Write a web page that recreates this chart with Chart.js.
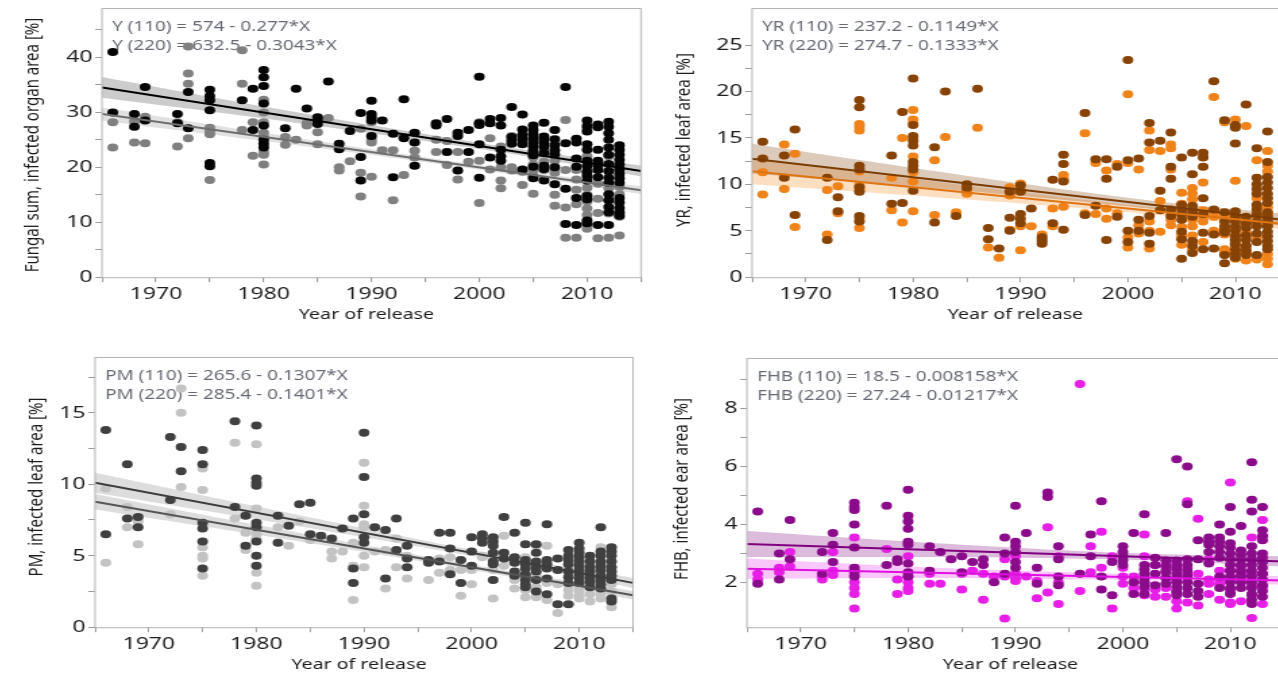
<!DOCTYPE html>
<html>
<head>
<meta charset="utf-8">
<script src="https://cdn.jsdelivr.net/npm/chart.js@4.4.1/dist/chart.umd.min.js"></script>
<style>
    html, body { margin: 0; padding: 0; background: #fff; }
    body { width: 1278px; height: 675px; overflow: hidden; position: relative; }
    canvas { position: absolute; transform-origin: 0 0; }
</style>
</head>
<body>
<canvas id="fungal"></canvas>
<canvas id="yr"></canvas>
<canvas id="pm"></canvas>
<canvas id="fhb"></canvas>
<script>
// --- DATA (year of release, values per cultivar) ---
const fungal220 = [
    [1966, [41, 30]], [1968, [29.7, 27.4]], [1969, [34.6, 28.5]], [1972, [29.7, 28.0]],
    [1973, [33.7, 27.1]], [1975, [34.1, 33.0, 32.2, 30.4, 20.8, 20.2]], [1978, [32.2]],
    [1979, [34.3, 26.8]], [1980, [37.7, 36.4, 34.8, 31.6, 27.6, 25.0, 24.3, 23.6]],
    [1982, [27.1]], [1983, [34.3]], [1984, [30.7]], [1985, [29.1, 28.5, 27.9]], [1986, [35.6]],
    [1987, [24.3, 23.3]], [1988, [26.6]], [1989, [29.9, 21.9, 17.6]],
    [1990, [32.1, 29.7, 29.1, 28.5, 25.7]], [1991, [28.5]], [1992, [26.1, 18.2]],
    [1993, [32.4, 25.3]], [1994, [26.3, 24.5, 20.3]], [1996, [28.0, 27.6]], [1997, [28.8, 22.8]],
    [1998, [26.3, 25.7, 19.4]], [1999, [26.8, 22.8]], [2000, [36.5, 28.0, 27.7, 24.2, 18.1]],
    [2001, [28.8, 28.0, 21.8]], [2002, [29.0, 27.6, 23.2, 22.0, 21.2]], [2003, [31.0, 25.5, 24.9, 24.3]],
    [2004, [29.6, 26.9, 25.9, 25.1, 24.2, 19.6]],
    [2005, [27.6, 26.8, 26.0, 25.3, 24.6, 23.8, 23.0, 22.2, 20.1, 18.0]],
    [2006, [28.1, 25.6, 25.0, 24.4, 23.7, 22.6, 20.3, 19.7, 17.6]],
    [2007, [26.8, 25.1, 24.0, 23.1, 22.4, 20.0, 16.9]], [2008, [34.6, 24.4, 16.1, 9.7]],
    [2009, [25.2, 24.5, 21.6, 20.1, 14.4, 9.5]],
    [2010, [28.5, 27.5, 26.5, 24.2, 23.2, 21.2, 20.2, 19.2, 18.4, 17.6, 14.8, 14.2, 10.3, 9.8]],
    [2011, [27.8, 27.3, 23.2, 21.2, 20.4, 19.5, 18.2, 9.5]],
    [2012, [28.3, 27.4, 26.2, 25.0, 23.6, 22.3, 20.6, 19.3, 18.1, 17.2, 15.1, 14.0, 12.8, 11.8, 9.5]],
    [2013, [24.0, 23.2, 22.3, 21.4, 20.5, 19.6, 18.8, 18.0, 17.2, 14.4, 13.6, 12.6, 11.8, 11.2]],
];
const fungal110 = [
    [1966, [28.2, 23.6]], [1968, [28.4, 24.5]], [1969, [29.2, 24.4]], [1972, [28.2, 23.8]],
    [1973, [42.0, 37.1, 35.2, 25.3]], [1975, [27.2, 26.6, 26.0, 17.7]], [1978, [41.3, 35.2, 26.8]],
    [1979, [28.2, 22.1]], [1980, [32.3, 30.0, 28.2, 26.3, 25.5, 22.8, 22.3, 20.5]],
    [1982, [25.5, 24.1]], [1983, [25.0]], [1984, [28.0, 27.6]], [1985, [29.0, 26.4, 24.2]],
    [1986, [29.0]], [1987, [20.0, 19.4]], [1988, [21.1]], [1989, [27.0, 19.0, 14.7]],
    [1990, [28.2, 25.0, 24.5, 18.3]], [1991, [23.1]], [1992, [23.1, 14.0]], [1993, [25.5, 18.6]],
    [1994, [23.0, 21.8]], [1996, [25.0, 22.8]], [1997, [24.8, 20.4]], [1998, [22.8, 17.8]],
    [1999, [21.0]], [2000, [28.2, 21.2, 13.5]], [2001, [25.3, 19.6]], [2002, [23.8, 20.0, 17.6, 16.2]],
    [2003, [25.7, 20.0, 19.4]], [2004, [19.2, 16.8]], [2005, [21.8, 20.5, 19.4, 18.4, 15.2]],
    [2006, [22.5, 21.0, 19.5]], [2007, [21.2, 19.0, 15.0, 13.0]], [2008, [28.6, 19.5, 12.7, 7.2]],
    [2009, [19.5, 17.8, 15.9, 13.3, 7.2]],
    [2010, [27.0, 22.0, 19.0, 16.3, 15.0, 13.8, 12.5, 11.3, 9.5, 8.8]],
    [2011, [17.0, 14.3, 11.7, 7.1]], [2012, [22.0, 16.2, 14.0, 11.6, 7.2]],
    [2013, [16.4, 15.1, 11.6, 11.0, 7.6]],
];

const yr220 = [
    [1966, [14.6, 12.8]], [1968, [13.1, 10.7]], [1969, [15.9, 6.7]], [1972, [10.7, 4.0]],
    [1973, [8.6, 7.1]], [1975, [19.1, 18.3, 12.0, 11.6, 9.7, 9.2, 6.6, 6.0]], [1978, [13.1, 7.9]],
    [1979, [17.8, 8.0]], [1980, [21.4, 16.4, 15.2, 14.7, 14.2, 12.4, 12.0, 11.6, 9.3]],
    [1982, [14.0, 5.9]], [1983, [20.0]], [1984, [6.6]], [1985, [10.0, 9.6]], [1986, [20.3]],
    [1987, [5.3, 4.1]], [1988, [3.1]], [1989, [9.2, 6.4, 5.0]], [1990, [9.9, 9.2, 6.8, 6.3, 5.8]],
    [1991, [7.4]], [1992, [4.3, 3.9, 3.6]], [1993, [10.5, 5.8]], [1994, [13.2, 12.2, 10.3, 5.1]],
    [1996, [17.7, 6.7]], [1997, [12.7, 7.7]], [1998, [12.7, 10.6, 4.0]], [1999, [11.9, 6.5]],
    [2000, [23.4, 12.6, 5.0, 3.8]], [2001, [12.8, 6.2, 5.0]], [2002, [16.6, 14.5, 6.6, 4.8, 3.6]],
    [2003, [14.7, 9.3, 7.2]], [2004, [15.6, 11.9, 10.6, 7.3, 6.6]],
    [2005, [12.9, 7.8, 7.3, 6.8, 6.2, 4.9, 4.1, 2.0]],
    [2006, [13.4, 11.1, 7.7, 7.3, 6.9, 6.5, 3.9, 3.4, 2.6]],
    [2007, [13.4, 12.9, 11.9, 8.5, 6.8, 4.8, 3.0]], [2008, [21.1, 7.3, 4.6, 3.1]],
    [2009, [16.9, 7.0, 6.0, 5.5, 5.1, 4.8, 2.4, 1.5]],
    [2010, [16.4, 16.1, 14.4, 7.1, 6.6, 6.0, 5.5, 5.0, 4.5, 4.0, 3.5, 3.0, 2.5, 2.1]],
    [2011, [18.6, 6.5, 5.8, 5.3, 4.5, 4.0, 3.4, 2.9, 2.4]],
    [2012, [13.9, 10.7, 10.0, 9.5, 9.0, 7.8, 7.3, 6.8, 6.0, 5.5, 4.7, 3.8, 2.4]],
    [2013, [15.7, 12.4, 10.8, 10.2, 9.6, 9.0, 8.5, 8.0, 7.0, 6.5, 6.0, 5.5, 4.9, 4.4, 3.9, 3.4, 3.0]],
];
const yr110 = [
    [1966, [11.3, 8.9]], [1968, [14.3, 9.5]], [1969, [13.3, 5.4]], [1972, [9.4, 4.6]],
    [1973, [9.8, 6.9]], [1975, [16.5, 16.2, 15.8, 11.4, 9.9, 9.4, 6.3, 5.3]], [1978, [10.7, 7.2]],
    [1979, [15.0, 5.9]], [1980, [18.0, 17.0, 16.6, 15.0, 13.0, 11.3, 10.3, 7.1]],
    [1982, [12.6, 6.7]], [1983, [15.1]], [1984, [7.0]], [1985, [9.3, 9.0]], [1986, [16.1]],
    [1987, [3.2]], [1988, [2.1]], [1989, [9.7, 8.8, 5.1]], [1990, [10.1, 9.4, 5.5, 2.9]],
    [1991, [5.5]], [1992, [4.6, 4.1]], [1993, [7.4, 5.5]], [1994, [11.0, 10.6, 7.6]],
    [1996, [15.5, 6.9]], [1997, [12.3, 6.8]], [1998, [11.5, 7.4, 6.3]], [1999, [12.2, 6.9]],
    [2000, [19.7, 12.3, 4.3, 3.2]], [2001, [11.6, 5.6, 4.7]], [2002, [15.8, 13.7, 6.0, 5.0, 3.1]],
    [2003, [13.6, 8.2, 4.9]], [2004, [14.3, 13.9, 11.6, 6.2, 5.6]],
    [2005, [9.1, 7.9, 6.6, 5.4, 4.5, 3.5]], [2006, [9.6, 9.0, 8.4, 6.2, 5.5, 4.5, 3.0]],
    [2007, [13.0, 10.2, 7.2, 6.5, 6.0, 3.8]], [2008, [19.4, 7.0, 6.5, 5.0]],
    [2009, [16.7, 6.5, 4.6, 3.0, 2.7]], [2010, [17.0, 10.4, 6.3, 5.2, 4.3, 3.7, 2.8, 2.0]],
    [2011, [16.3, 5.7, 4.8, 3.3, 2.7, 1.8]], [2012, [12.6, 8.5, 7.6, 6.6, 4.3, 2.2, 1.9]],
    [2013, [13.6, 12.0, 11.4, 7.5, 6.8, 5.7, 2.5, 2.0, 1.4]],
];

const pm220 = [
    [1966, [13.8, 6.5]], [1968, [11.4, 7.6]], [1969, [7.7, 7.0]], [1972, [13.3, 8.9]],
    [1973, [12.6, 10.9]], [1975, [12.4, 11.4, 7.3, 6.9, 6.0, 4.1]], [1978, [14.4, 8.4]],
    [1979, [7.8, 5.7]], [1980, [14.1, 10.4, 10.1, 9.9, 7.3, 7.0, 6.0, 5.0, 4.3]],
    [1982, [7.8, 5.9]], [1983, [7.1]], [1984, [8.6]], [1985, [8.7, 6.5]], [1986, [6.4]],
    [1987, [6.2]], [1988, [6.9]], [1989, [7.6, 4.1, 3.1]], [1990, [13.6, 10.5, 7.9, 6.3, 5.9]],
    [1991, [7.0]], [1992, [6.8, 3.4]], [1993, [7.6, 5.4]], [1994, [5.7, 4.8, 4.2]],
    [1996, [4.7, 4.5]], [1997, [6.6, 4.6]], [1998, [6.6, 5.5, 3.7]], [1999, [4.7, 3.1]],
    [2000, [6.3, 5.3, 4.3]], [2001, [6.5, 6.2, 5.9]], [2002, [6.3, 6.0, 5.7, 5.2, 4.6, 4.4, 3.3]],
    [2003, [7.7, 5.2, 4.8]], [2004, [6.6, 4.9, 4.5, 3.9, 3.6]],
    [2005, [7.3, 5.8, 4.7, 4.4, 4.1, 3.7, 3.3, 3.0, 2.8]], [2006, [5.8, 5.2, 4.6, 4.2, 3.9, 3.3, 2.5]],
    [2007, [7.2, 4.7, 4.4, 4.1, 3.4, 2.3]], [2008, [4.8, 4.0, 1.6]],
    [2009, [5.4, 5.0, 4.7, 4.4, 3.9, 3.5, 3.1, 1.6]],
    [2010, [5.9, 5.5, 5.2, 4.9, 4.6, 4.3, 4.0, 3.7, 3.4, 3.1]],
    [2011, [5.0, 4.6, 4.2, 3.9, 3.5, 3.2, 2.8]],
    [2012, [7.0, 5.3, 5.0, 4.6, 4.3, 4.0, 3.6, 3.3, 3.0, 2.7]],
    [2013, [5.6, 5.3, 5.0, 4.6, 4.2, 3.9, 3.6, 3.3, 2.0, 1.8]],
];
const pm110 = [
    [1966, [9.7, 4.5]], [1968, [8.4, 7.0]], [1969, [7.4, 5.8]], [1972, [7.9]],
    [1973, [16.7, 15.0, 9.8]], [1975, [11.1, 9.6, 5.6, 5.0, 4.8, 3.6]], [1978, [12.9, 7.6]],
    [1979, [6.6, 5.4]], [1980, [12.8, 8.3, 6.5, 6.2, 3.8, 2.9]], [1982, [7.0]], [1983, [5.7]],
    [1984, [7.4]], [1985, [6.1]], [1987, [5.3, 4.8]], [1988, [5.3]], [1989, [5.9, 4.3, 1.9]],
    [1990, [11.5, 8.5, 7.2, 7.0, 5.0, 4.2]], [1991, [5.3]], [1992, [5.4, 2.7]], [1993, [6.2, 4.2]],
    [1994, [5.0, 3.4]], [1996, [3.3]], [1997, [4.8, 3.8]], [1998, [4.9, 4.0]], [1999, [4.0, 2.2]],
    [2000, [4.0, 3.0]], [2001, [5.0, 4.9]], [2002, [4.0, 2.0]], [2003, [6.4, 4.8, 4.3]],
    [2004, [4.6, 3.3, 2.7]], [2005, [4.9, 4.5, 3.6, 2.6, 2.1]], [2006, [5.7, 4.5, 3.6, 2.8, 2.1]],
    [2007, [5.7, 3.1, 1.9]], [2008, [3.0, 1.0]], [2009, [4.2, 3.0, 2.6, 2.2]],
    [2010, [3.2, 2.8, 2.5, 2.2, 2.0]], [2011, [3.0, 2.3, 1.8]], [2012, [5.6, 3.5, 2.3, 2.0]],
    [2013, [3.0, 2.5, 1.4]],
];

const fhb220 = [
    [1966, [4.45, 1.95]], [1968, [3.0, 2.1]], [1969, [4.15, 2.8]], [1972, [3.05, 2.3]],
    [1973, [3.7, 3.3, 2.7]], [1975, [4.75, 4.6, 4.5, 4.0, 3.2, 2.5, 2.4, 2.2]], [1978, [4.65, 2.6]],
    [1979, [2.8, 2.7]], [1980, [5.2, 4.3, 4.1, 3.85, 3.4, 3.3, 2.65, 2.35, 2.2]],
    [1982, [3.25, 2.4]], [1983, [3.05]], [1984, [2.8]], [1985, [2.9, 2.35]], [1986, [2.7]],
    [1987, [2.8, 2.6]], [1988, [2.0]], [1989, [3.55, 3.0, 2.3]], [1990, [4.65, 3.4, 3.25, 3.05, 2.7, 2.5]],
    [1991, [3.7]], [1992, [2.5, 1.95]], [1993, [5.1, 4.95]], [1994, [3.25, 2.8, 2.2, 1.9]],
    [1996, [2.3]], [1997, [3.65, 2.9]], [1998, [4.8, 2.2, 1.75]], [1999, [2.7, 1.55]],
    [2000, [3.25, 3.05, 2.9, 2.75, 2.6]], [2001, [3.7, 2.0, 1.6]],
    [2002, [4.35, 2.6, 2.45, 2.3, 2.15, 2.0, 1.85, 1.6]], [2003, [2.85, 2.6, 2.3, 1.9]],
    [2004, [3.7, 2.75, 2.55, 2.35, 2.15, 1.95]],
    [2005, [6.25, 2.75, 2.6, 2.45, 2.3, 2.15, 2.0, 1.85, 1.7, 1.55]],
    [2006, [6.0, 4.7, 2.8, 2.6, 2.4, 2.2, 2.0, 1.8, 1.6]], [2007, [3.45, 2.8, 1.95, 1.7, 1.5]],
    [2008, [3.55, 3.4, 3.3, 3.05, 2.65]], [2009, [4.0, 3.55, 3.4, 3.25, 3.05, 2.85, 2.2, 1.8]],
    [2010, [4.6, 3.75, 3.35, 3.2, 3.0, 2.8, 2.6, 2.4, 2.2, 2.0, 1.8, 1.6]],
    [2011, [3.95, 3.1, 2.95, 2.8, 2.6, 2.4, 2.2, 2.0, 1.8]],
    [2012, [6.15, 4.85, 4.45, 3.25, 3.0, 2.8, 2.6, 2.4, 2.2, 2.0, 1.8, 1.6, 1.4, 1.25]],
    [2013, [4.6, 3.8, 3.6, 3.45, 3.0, 2.85, 2.7, 2.5, 2.3, 2.1, 1.9, 1.7, 1.5]],
];
const fhb110 = [
    [1966, [2.3, 2.1]], [1968, [2.5, 2.35]], [1969, [3.05, 2.55]], [1972, [2.2, 2.1]],
    [1973, [3.05, 2.4, 2.25]], [1975, [3.55, 2.3, 2.0, 1.8, 1.6, 1.1]], [1978, [3.15]],
    [1979, [2.1, 1.6]], [1980, [2.9, 2.2, 2.0, 1.8, 1.7]], [1982, [2.3, 1.95]], [1983, [1.95]],
    [1985, [2.3, 1.75]], [1986, [2.4]], [1987, [2.3, 1.4]], [1988, [2.2]], [1989, [2.8, 2.2, 0.75]],
    [1990, [2.9, 2.3, 2.15, 2.05]], [1991, [2.2]], [1992, [2.05, 1.45]], [1993, [3.9, 1.65]],
    [1994, [2.9, 2.0, 1.25]], [1996, [8.85, 1.7]], [1997, [3.25, 2.35]], [1998, [3.75, 2.5]],
    [1999, [2.9, 1.1]], [2000, [2.5, 2.2, 1.95]], [2001, [2.2, 1.8]],
    [2002, [3.65, 2.9, 2.0, 1.75, 1.55]], [2003, [2.6, 1.75, 1.5]], [2004, [2.6, 2.4, 1.8, 1.5]],
    [2005, [2.7, 2.5, 2.05, 1.65, 1.35, 1.1]], [2006, [4.8, 2.5, 2.3, 1.3]], [2007, [4.2, 2.3, 1.2]],
    [2008, [2.8, 2.1, 1.95, 1.6]], [2009, [2.4, 2.1, 1.95, 1.4]],
    [2010, [5.45, 2.4, 2.1, 1.7, 1.3, 1.25]], [2011, [2.55, 2.3, 1.35]],
    [2012, [3.55, 2.3, 1.9, 1.55, 0.77]], [2013, [4.15, 3.6, 2.3, 1.85, 1.25]],
];

// regression fits [intercept, slope] as printed on each panel
const fungalFit110 = [574, -0.277], fungalFit220 = [632.5, -0.3043];
const yrFit110 = [237.2, -0.1149], yrFit220 = [274.7, -0.1333];
const pmFit110 = [265.6, -0.1307], pmFit220 = [285.4, -0.1401];
const fhbFit110 = [18.5, -0.008158], fhbFit220 = [27.24, -0.01217];

// confidence band half widths at these years
const bandYears = [1965, 1980, 1995, 2005, 2015];
const fungalBand110 = [1.2, 0.75, 0.45, 0.45, 0.7], fungalBand220 = [1.9, 1.1, 0.65, 0.6, 1.0];
const yrBand110 = [1.4, 0.9, 0.5, 0.4, 0.6], yrBand220 = [1.6, 1.0, 0.55, 0.45, 0.7];
const pmBand110 = [0.55, 0.35, 0.2, 0.2, 0.3], pmBand220 = [0.7, 0.45, 0.25, 0.22, 0.35];
const fhbBand110 = [0.35, 0.2, 0.12, 0.1, 0.15], fhbBand220 = [0.45, 0.27, 0.14, 0.12, 0.18];

const xRange = [1965, 2015];

// --- LAYOUT ---
const K = 1.35; // the source figure is stretched horizontally
const AXIS_W = 80, AXIS_H = 60, PAD_T = 15, PAD_R = 8;

Chart.defaults.font.family = '"Noto Sans", sans-serif';

const isMult = (v, s) => Math.abs(v / s - Math.round(v / s)) < 1e-6;
const points = (rows) => rows.flatMap(([x, vals]) => vals.map((y) => ({ x, y })));
const fitAt = (fit, x) => fit[0] + fit[1] * x;

function scatterSet(rows, color, order) {
    return {
        type: 'scatter', data: points(rows), backgroundColor: color, borderWidth: 0,
        pointRadius: 4, pointHoverRadius: 4, order,
    };
}

function lineSet(fit, color) {
    return {
        type: 'line', data: xRange.map((x) => ({ x, y: fitAt(fit, x) })),
        borderColor: color, borderWidth: 2, pointRadius: 0, fill: false, order: 1,
    };
}

function bandSets(fit, half, color) {
    const up = bandYears.map((x, i) => ({ x, y: fitAt(fit, x) + half[i] }));
    const lo = bandYears.map((x, i) => ({ x, y: fitAt(fit, x) - half[i] }));
    return [
        { type: 'line', data: up, borderWidth: 0, borderColor: 'transparent', pointRadius: 0, fill: false, tension: 0.4, order: 3 },
        { type: 'line', data: lo, borderWidth: 0, borderColor: 'transparent', pointRadius: 0, fill: '-1', backgroundColor: color, tension: 0.4, order: 3 },
    ];
}

const decor = {
    id: 'decor',
    beforeDatasetsDraw(chart, args, o) {
        const { ctx, chartArea: a } = chart;
        ctx.save();
        ctx.fillStyle = '#676a74';
        ctx.font = '14px "Noto Sans"';
        ctx.textAlign = 'left';
        ctx.textBaseline = 'alphabetic';
        o.eq.forEach((t, i) => ctx.fillText(t, a.left + 10 / K, a.top + 22.5 + i * 19));
        ctx.restore();
    },
    afterDraw(chart, args, o) {
        const { ctx, chartArea: a } = chart;
        ctx.save();
        ctx.strokeStyle = '#b4b4b4';
        ctx.lineWidth = 1;
        ctx.strokeRect(a.left, a.top + 0.5, a.right - a.left, a.bottom - a.top);
        ctx.fillStyle = '#1c1c1c';
        ctx.font = '14.5px "Noto Sans"';
        ctx.textAlign = 'center';
        ctx.textBaseline = 'alphabetic';
        ctx.fillText('Year of release', (a.left + a.right) / 2 - 5 / K, a.bottom + 42);
        ctx.font = '15px "Noto Sans"';
        ctx.translate(a.left + o.yTitleDX / K, a.top + o.yTitleDY);
        ctx.rotate(-Math.PI / 2);
        ctx.textBaseline = 'middle';
        ctx.fillText(o.yTitle, 0, 0);
        ctx.restore();
    },
};

function axis(min, max, step, labelStep, fitFn) {
    return {
        type: 'linear', min, max,
        grid: { display: true, drawOnChartArea: false, drawTicks: true, tickLength: 5, color: '#9c9c9c' },
        border: { display: false },
        ticks: {
            stepSize: step, autoSkip: false, maxRotation: 0, padding: 2, color: '#1e1e1e',
            font: { size: 17 },
            callback: (v) => (isMult(v, labelStep) ? String(v) : ''),
        },
        afterBuildTicks: (s) => { s.ticks = s.ticks.filter((t) => isMult(t.value, step)); },
        afterFit: fitFn,
    };
}

function makePanel(p) {
    const canvas = document.getElementById(p.id);
    const [l, t, r, b] = p.area;
    const areaW = (r - l) / K;
    const areaH = b - t;
    const w = Math.ceil(AXIS_W + areaW + PAD_R);
    const h = Math.ceil(PAD_T + areaH + AXIS_H);
    canvas.width = w;
    canvas.height = h;
    canvas.style.width = w + 'px';
    canvas.style.height = h + 'px';
    canvas.style.left = (l - AXIS_W * K) + 'px';
    canvas.style.top = (t - PAD_T) + 'px';
    canvas.style.transform = `scaleX(${K})`;

    const s = p.series;
    const datasets = [
        ...bandSets(s.fit220, s.band220, s.band220Color),
        ...bandSets(s.fit110, s.band110, s.band110Color),
        scatterSet(s.pts220, s.dot220, 2),
        scatterSet(s.pts110, s.dot110, 2.5),
        lineSet(s.fit220, s.line220),
        lineSet(s.fit110, s.line110),
    ];

    new Chart(canvas, {
        type: 'scatter',
        data: { datasets },
        plugins: [decor],
        options: {
            responsive: false,
            animation: false,
            devicePixelRatio: 1,
            events: [],
            layout: { padding: { top: PAD_T, left: 0, right: w - AXIS_W - areaW, bottom: h - PAD_T - areaH - AXIS_H } },
            scales: {
                x: axis(xRange[0], xRange[1], 5, 10, (sc) => { sc.height = AXIS_H; }),
                y: axis(p.y[0], p.y[1], p.y[2], p.y[3], (sc) => { sc.width = AXIS_W; }),
            },
            plugins: {
                legend: { display: false },
                tooltip: { enabled: false },
                decor: { eq: p.eq, yTitle: p.yTitle, yTitleDX: p.yTitleDX, yTitleDY: p.yTitleDY },
            },
        },
    });
}

makePanel({
    id: 'fungal', area: [101.7, 7.5, 640.7, 276.7], y: [0, 49, 5, 10],
    yTitle: 'Fungal sum, infected organ area [%]', yTitleDX: -69, yTitleDY: 137,
    eq: ['Y (110) = 574 - 0.277*X', 'Y (220) = 632.5 - 0.3043*X'],
    series: {
        pts110: fungal110, pts220: fungal220, fit110: fungalFit110, fit220: fungalFit220,
        band110: fungalBand110, band220: fungalBand220,
        dot110: '#808080', dot220: '#050505', line110: '#6e6e6e', line220: '#000000',
        band110Color: 'rgba(120,120,120,0.22)', band220Color: 'rgba(0,0,0,0.2)',
    },
});
makePanel({
    id: 'yr', area: [751.7, 7.5, 1288.7, 276.7], y: [0, 29, 2.5, 5],
    yTitle: 'YR, infected leaf area [%]', yTitleDX: -68, yTitleDY: 132,
    eq: ['YR (110) = 237.2 - 0.1149*X', 'YR (220) = 274.7 - 0.1333*X'],
    series: {
        pts110: yr110, pts220: yr220, fit110: yrFit110, fit220: yrFit220,
        band110: yrBand110, band220: yrBand220,
        dot110: '#f0821a', dot220: '#874306', line110: '#df7412', line220: '#7a3c02',
        band110Color: 'rgba(245,145,50,0.3)', band220Color: 'rgba(140,80,30,0.3)',
    },
});
makePanel({
    id: 'pm', area: [94.7, 356.5, 632.7, 626.7], y: [0, 18.9, 2.5, 5],
    yTitle: 'PM, infected leaf area [%]', yTitleDX: -58, yTitleDY: 130,
    eq: ['PM (110) = 265.6 - 0.1307*X', 'PM (220) = 285.4 - 0.1401*X'],
    series: {
        pts110: pm110, pts220: pm220, fit110: pmFit110, fit220: pmFit220,
        band110: pmBand110, band220: pmBand220,
        dot110: '#c3c3c3', dot220: '#404040', line110: '#555555', line220: '#3c3c3c',
        band110Color: 'rgba(120,120,120,0.25)', band220Color: 'rgba(120,120,120,0.25)',
    },
});
makePanel({
    id: 'fhb', area: [747.3, 357.5, 1284.3, 626.7], y: [0.45, 9.75, 1, 2],
    yTitle: 'FHB, infected ear area [%]', yTitleDX: -65, yTitleDY: 131,
    eq: ['FHB (110) = 18.5 - 0.008158*X', 'FHB (220) = 27.24 - 0.01217*X'],
    series: {
        pts110: fhb110, pts220: fhb220, fit110: fhbFit110, fit220: fhbFit220,
        band110: fhbBand110, band220: fhbBand220,
        dot110: '#e61ee6', dot220: '#8a0c8a', line110: '#e010e0', line220: '#800080',
        band110Color: 'rgba(240,70,240,0.3)', band220Color: 'rgba(140,30,140,0.3)',
    },
});
</script>
</body>
</html>
